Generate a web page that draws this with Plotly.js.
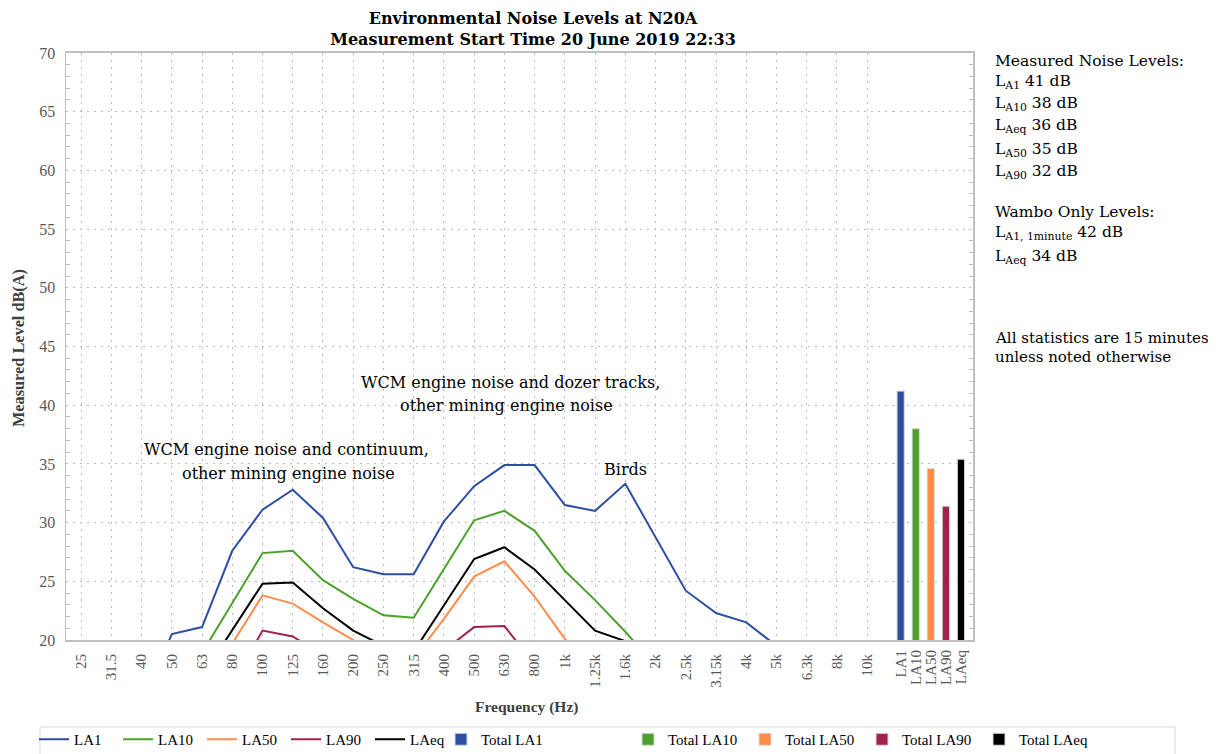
<!DOCTYPE html>
<html>
<head>
<meta charset="utf-8">
<script src="https://cdn.plot.ly/plotly-3.0.1.min.js"></script>
<style>html,body{margin:0;padding:0;background:#fff;}#chart{width:1216px;height:754px;}</style>
</head>
<body>
<div id="chart"></div>
<script>
// Frequency bands (1/3 octave)
const frequencies = ['25','31.5','40','50','63','80','100','125','160','200','250','315','400','500','630','800','1k','1.25k','1.6k','2k','2.5k','3.15k','4k','5k','6.3k','8k','10k'];

// Spectral levels dB(A)
const LA1  = [10.5, 12.0, 14.5, 20.5, 21.1, 27.6, 31.1, 32.8, 30.4, 26.2, 25.6, 25.6, 30.1, 33.1, 34.9, 34.9, 31.5, 31.0, 33.3, 28.8, 24.2, 22.3, 21.5, 19.5, 16.5, 14.0, 12.0];
const LA10 = [7.0, 9.0, 12.0, 15.0, 18.9, 23.2, 27.4, 27.6, 25.1, 23.5, 22.1, 21.9, 26.1, 30.2, 31.0, 29.3, 25.9, 23.4, 20.7, 17.8, 14.0, 12.0, 10.0, 8.5, 6.5, 4.5, 3.0];
const LA50 = [5.0, 7.0, 9.0, 12.0, 15.7, 19.7, 23.8, 23.1, 21.5, 20.0, 18.5, 18.4, 21.8, 25.4, 26.7, 23.7, 20.1, 16.5, 14.0, 11.0, 9.0, 7.0, 6.0, 5.0, 4.0, 3.0, 2.0];
const LA90 = [2.0, 4.0, 6.0, 9.0, 12.0, 16.2, 20.8, 20.3, 18.7, 16.5, 15.5, 16.0, 19.1, 21.1, 21.2, 17.9, 15.0, 13.0, 11.0, 9.0, 7.0, 5.0, 4.0, 3.0, 2.0, 1.5, 1.0];
const LAeq = [4.0, 6.0, 9.0, 12.0, 16.9, 20.8, 24.8, 24.9, 22.7, 20.8, 19.5, 19.0, 22.9, 26.9, 27.9, 26.0, 23.4, 20.8, 19.9, 17.0, 14.0, 12.0, 10.0, 9.0, 7.0, 6.0, 5.0];

// Overall (total) levels
const totalLabels = ['LA1','LA10','LA50','LA90','LAeq'];
const totalValues = [41.2, 38.0, 34.6, 31.4, 35.4];

const lineNames = ['LA1','LA10','LA50','LA90','LAeq'];
const lineSeries = [LA1, LA10, LA50, LA90, LAeq];
const colors = ['#2c4fa3','#4ca12a','#ff8c4b','#a1234b','#000000'];

const SERIF = '"Liberation Serif", "Times New Roman", serif';
const PAL = '"DejaVu Serif", serif';

const traces = [];
lineSeries.forEach((s, i) => {
  traces.push({
    type: 'scatter', mode: 'lines', name: lineNames[i],
    x: frequencies, y: s, xaxis: 'x', yaxis: 'y',
    line: {color: colors[i], width: 2},
    legend: 'legend'
  });
});
totalLabels.forEach((lab, i) => {
  traces.push({
    type: 'bar', name: 'Total ' + lab,
    x: [lab], y: [totalValues[i]], base: 0,
    xaxis: 'x2', yaxis: 'y',
    width: 0.48,
    marker: {color: colors[i], line: {color: '#d9d9d9', width: 1}},
    legend: i === 0 ? 'legend2' : 'legend3'
  });
});

const plotL = 66, plotR = 973, plotT = 53, plotB = 640;
const W = plotR - plotL, H = plotB - plotT;
const px = x => (x - plotL) / W;
const py = y => (plotB - y) / H;

const ann = [];
function addText(text, x, y, opts) {
  ann.push(Object.assign({
    text: text, xref: 'paper', yref: 'paper', x: px(x), y: py(y),
    xanchor: 'left', yanchor: 'middle', showarrow: false,
    font: {family: PAL, size: 15.5, color: '#000'}
  }, opts || {}));
}
// Right-hand notes
addText('Measured Noise Levels:', 993, 61);
addText('L<sub>A1</sub> 41 dB', 993, 82);
addText('L<sub>A10</sub> 38 dB', 993, 104);
addText('L<sub>Aeq</sub> 36 dB', 993, 126);
addText('L<sub>A50</sub> 35 dB', 993, 150);
addText('L<sub>A90</sub> 32 dB', 993, 172);
addText('Wambo Only Levels:', 993, 212);
addText('L<sub>A1, 1minute</sub> 42 dB', 993, 233);
addText('L<sub>Aeq</sub> 34 dB', 993, 257);
addText('All statistics are 15 minutes', 993, 338, {font: {family: PAL, size: 15, color: '#000'}});
addText('unless noted otherwise', 993, 357, {font: {family: PAL, size: 15, color: '#000'}});
// In-plot annotations
const inPlot = {xanchor: 'center', font: {family: PAL, size: 16, color: '#000'}};
addText('WCM engine noise and continuum,', 286, 449, inPlot);
addText('other mining engine noise', 288, 473, inPlot);
addText('WCM engine noise and dozer tracks,', 510, 382, inPlot);
addText('other mining engine noise', 506, 405, inPlot);
addText('Birds', 625, 469, inPlot);
// Axis titles
addText('<b>Frequency (Hz)</b>', 526, 707, {xanchor: 'center', font: {family: SERIF, size: 15.5, color: '#404040'}});
addText('<b>Measured Level dB(A)</b>', 18, 348, {xanchor: 'center', textangle: -90, font: {family: SERIF, size: 16.3, color: '#404040'}});

const legendBase = {
  orientation: 'h', xanchor: 'left', y: -(756 - plotB) / H, yanchor: 'bottom',
  borderwidth: 0, bgcolor: 'rgba(0,0,0,0)',
  font: {family: SERIF, size: 15, color: '#000'},
  traceorder: 'normal', entrywidthmode: 'pixels'
};

const layout = {
  width: 1216, height: 754,
  paper_bgcolor: '#ffffff', plot_bgcolor: '#ffffff',
  margin: {l: plotL, r: 1216 - plotR, t: plotT, b: 754 - plotB, pad: 0, autoexpand: false},
  title: {
    text: '<b>Environmental Noise Levels at N20A<br>Measurement Start Time 20 June 2019 22:33</b>',
    font: {family: PAL, size: 16, color: '#000'},
    x: 533 / 1216, xanchor: 'center', xref: 'container',
    y: 1 - 24 / 754, yanchor: 'middle', yref: 'container'
  },
  showlegend: true,
  legend: Object.assign({}, legendBase, {x: px(34), entrywidth: 39}),
  legend2: Object.assign({}, legendBase, {x: px(441)}),
  legend3: Object.assign({}, legendBase, {x: px(628), entrywidth: 72}),
  shapes: [{
    type: 'rect', xref: 'paper', yref: 'paper',
    x0: px(40), x1: px(1175), y0: py(764), y1: py(727),
    line: {color: '#d9d9d9', width: 1}, fillcolor: 'rgba(0,0,0,0)', layer: 'below'
  }],
  xaxis: {
    type: 'category', categoryorder: 'array', categoryarray: frequencies,
    range: [-0.5, 29.5], domain: [0, 1], anchor: 'y', automargin: false,
    tickangle: -90, ticks: '', ticklabelstandoff: 6,
    tickfont: {family: SERIF, size: 15, color: '#595959'},
    showgrid: true, gridcolor: '#bdbdbd', griddash: '2px,5px', gridwidth: 1,
    showline: true, linecolor: '#bfbfbf', linewidth: 2, mirror: true,
    zeroline: false, fixedrange: true
  },
  xaxis2: {
    type: 'category', categoryorder: 'array', categoryarray: totalLabels,
    tickmode: 'array', tickvals: totalLabels, ticktext: totalLabels,
    domain: [(893.1 - plotL) / W, (968.5 - plotL) / W], anchor: 'y', automargin: false,
    tickangle: -90, ticks: '', ticklabelstandoff: 6,
    tickfont: {family: SERIF, size: 15, color: '#595959'},
    showgrid: false, showline: false, zeroline: false, fixedrange: true
  },
  yaxis: {
    range: [20, 70], dtick: 5, tick0: 20, anchor: 'x', automargin: false,
    ticks: 'inside', ticklen: 0, ticklabelstandoff: 6,
    tickfont: {family: SERIF, size: 16, color: '#595959'},
    showgrid: true, gridcolor: '#bdbdbd', griddash: '2px,5px', gridwidth: 1,
    showline: true, linecolor: '#bfbfbf', linewidth: 1.5, mirror: 'ticks',
    minor: {dtick: 1, ticks: 'inside', ticklen: 4, tickcolor: '#bfbfbf', showgrid: false},
    zeroline: false, fixedrange: true
  },
  barmode: 'overlay',
  annotations: ann
};

Plotly.newPlot('chart', traces, layout, {displayModeBar: false, staticPlot: true});
</script>
</body>
</html>
